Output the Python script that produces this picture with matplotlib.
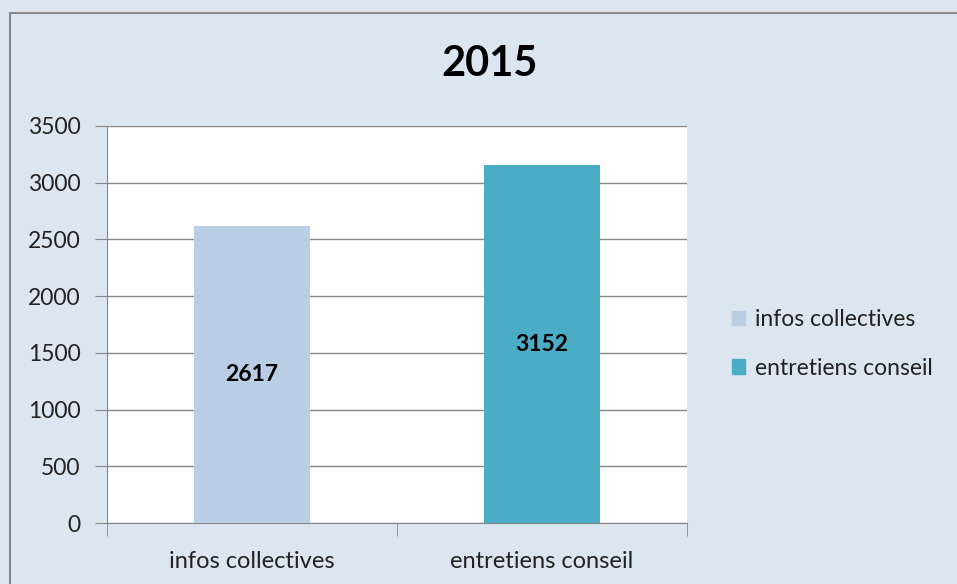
import matplotlib.pyplot as plt
from matplotlib.patches import Rectangle
from matplotlib.lines import Line2D

categories = ["infos collectives", "entretiens conseil"]
values = [2617, 3152]
colors = ["#b9cde5", "#4bacc6"]
title = "2015"

plt.rcParams['font.family'] = ['Lato', 'DejaVu Sans']


def main():
    W, H = 957, 584
    fig = plt.figure(figsize=(W / 100, H / 100), dpi=100)
    fig.patch.set_facecolor("#dce6f1")

    # gray chart frame (left and top edges visible)
    fig.add_artist(Line2D([10 / W, 10 / W], [0, 1 - 13 / H], color="#888888", lw=1.5, transform=fig.transFigure))
    fig.add_artist(Line2D([10 / W, 1], [1 - 13 / H, 1 - 13 / H], color="#888888", lw=1.5, transform=fig.transFigure))

    ax = fig.add_axes([107 / W, 61 / H, 580 / W, 397 / H])
    ax.set_facecolor("white")

    x = range(len(categories))
    bars = ax.bar(x, values, width=0.4, color=colors, zorder=3)
    for b, v in zip(bars, values):
        ax.text(b.get_x() + b.get_width() / 2, v / 2, str(v), ha="center", va="center",
                fontsize=16.5, fontweight="bold", color="black", zorder=4)

    ax.set_xlim(-0.5, len(categories) - 0.5)
    ax.set_ylim(0, 3500)
    ax.set_yticks(range(0, 3501, 500))
    ax.yaxis.grid(True, color="#868686", lw=1, zorder=0)
    ax.tick_params(axis="y", length=9, color="#868686", labelsize=16.5, labelcolor="#222222", pad=10)

    ax.set_xticks(list(x))
    ax.set_xticklabels(categories)
    ax.set_xticks([-0.5, 0.5, 1.5], minor=True)
    ax.tick_params(axis="x", which="major", length=0, labelsize=17, labelcolor="#222222", pad=20)
    ax.tick_params(axis="x", which="minor", length=9, color="#868686")

    for s in ["top", "right"]:
        ax.spines[s].set_visible(False)
    for s in ["left", "bottom"]:
        ax.spines[s].set_color("#868686")

    fig.text(490 / W, 1 - 64 / H, title, ha="center", va="center", fontsize=30, fontweight="bold")

    handles = [Rectangle((0, 0), 1, 1, color=c) for c in colors]
    leg = fig.legend(handles, categories, loc="center left", bbox_to_anchor=(711 / W, 1 - 344 / H),
                     frameon=False, fontsize=16.5, handlelength=0.6, handleheight=0.6,
                     handletextpad=0.4, labelspacing=1.2)
    for t in leg.get_texts():
        t.set_color("#222222")

    fig.savefig("out.png", dpi=100, facecolor=fig.get_facecolor())


if __name__ == "__main__":
    main()
